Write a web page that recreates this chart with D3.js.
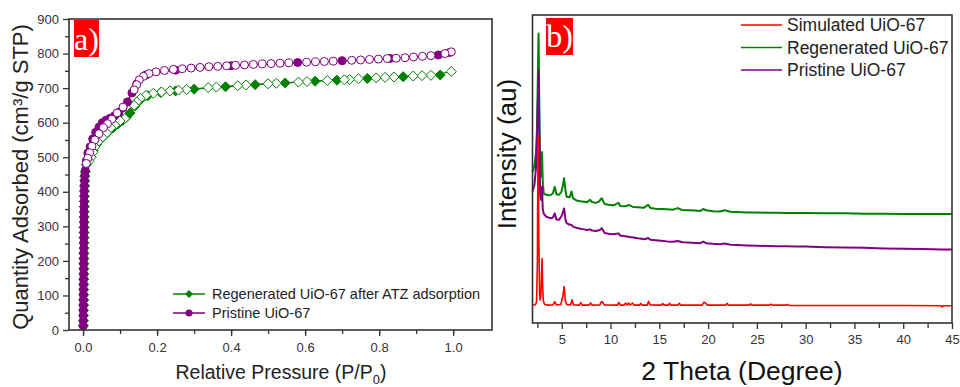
<!DOCTYPE html>
<html>
<head>
<meta charset="utf-8">
<script src="https://cdn.jsdelivr.net/npm/d3@7"></script>
<style>
  body { margin: 0; background: #fff; }
  svg { display: block; font-family: "Liberation Sans", Arial, sans-serif; }
  .tick text { fill: #333; font-size: 13px; }
  .tick line { stroke: #333; stroke-width: 1.3; }
  .domain { display: none; }
</style>
</head>
<body>
<div class="chart"></div>
<script>
// N2 isotherms (left) and XRD patterns (right)

// --- panel a) data: [P/P0, quantity adsorbed] ---
var pristineAds = [
  [0.0005, 12], [0.0006, 27], [0.0007, 42], [0.0008, 57], [0.0009, 72], [0.001, 87],
  [0.001, 102], [0.0011, 117], [0.0012, 132], [0.0013, 147], [0.0014, 162], [0.0015, 177],
  [0.0016, 192], [0.0017, 207], [0.0018, 222], [0.0019, 237], [0.002, 252], [0.0021, 267],
  [0.0022, 282], [0.0023, 297], [0.0024, 312], [0.0025, 327], [0.0026, 342], [0.0027, 357],
  [0.0028, 372], [0.003, 387], [0.0032, 402], [0.0035, 417], [0.004, 432], [0.0045, 447],
  [0.006, 462], [0.009, 490], [0.013, 512], [0.019, 530], [0.026, 553], [0.034, 572],
  [0.043, 587], [0.052, 600], [0.062, 607], [0.073, 613], [0.085, 620], [0.097, 630],
  [0.108, 643], [0.12, 660], [0.132, 686], [0.145, 712], [0.17, 738], [0.25, 752],
  [0.4, 765], [0.58, 774], [0.70, 779], [0.83, 786], [0.96, 796], [0.99, 803]
];
var pristineDes = [
  [0.995, 805], [0.978, 800], [0.94, 794], [0.917, 792], [0.893, 790], [0.87, 788],
  [0.846, 786.5], [0.822, 785.5], [0.798, 784], [0.774, 783], [0.75, 781.5], [0.726, 780.5],
  [0.676, 778], [0.652, 777], [0.628, 776], [0.604, 775], [0.556, 773], [0.532, 772],
  [0.508, 771], [0.484, 770], [0.46, 768.5], [0.436, 767], [0.412, 766], [0.388, 764.5],
  [0.364, 763], [0.34, 762], [0.316, 760], [0.292, 758], [0.268, 756], [0.244, 754],
  [0.22, 751], [0.197, 747], [0.178, 742], [0.163, 734], [0.152, 724], [0.145, 710],
  [0.138, 695], [0.108, 645], [0.092, 628], [0.078, 610], [0.066, 597], [0.055, 585],
  [0.043, 568], [0.032, 550], [0.024, 532], [0.018, 513], [0.013, 497], [0.009, 482]
];
var regenAds = [
  [0.001, 12], [0.0011, 27], [0.0012, 42], [0.0013, 57], [0.0014, 72], [0.0015, 87],
  [0.0016, 102], [0.0017, 117], [0.0018, 132], [0.0019, 147], [0.002, 162], [0.0021, 177],
  [0.0022, 192], [0.0023, 207], [0.0024, 222], [0.0025, 237], [0.0026, 252], [0.0027, 267],
  [0.0028, 282], [0.0029, 297], [0.003, 312], [0.0031, 327], [0.0032, 342], [0.0033, 357],
  [0.0034, 372], [0.0035, 387], [0.0037, 402], [0.004, 417], [0.0045, 432], [0.005, 445],
  [0.006, 458], [0.009, 478], [0.014, 495], [0.02, 508], [0.027, 520], [0.036, 537],
  [0.046, 550], [0.058, 562], [0.07, 575], [0.082, 586], [0.094, 596], [0.106, 606],
  [0.117, 616], [0.127, 628], [0.14, 648], [0.155, 666], [0.175, 678], [0.21, 687],
  [0.25, 692], [0.3, 697], [0.385, 704], [0.465, 710], [0.546, 715], [0.627, 720],
  [0.686, 723], [0.768, 728], [0.865, 733], [0.965, 738]
];
var regenDes = [
  [0.995, 748], [0.94, 737], [0.916, 736], [0.892, 735], [0.84, 732], [0.816, 731],
  [0.792, 729.5], [0.744, 727], [0.72, 725], [0.706, 724], [0.66, 722], [0.605, 719],
  [0.582, 717.5], [0.522, 714], [0.5, 712.5], [0.44, 709], [0.418, 707], [0.36, 703],
  [0.338, 701.5], [0.28, 696], [0.258, 694], [0.235, 692], [0.212, 689], [0.19, 685],
  [0.17, 679], [0.155, 670], [0.145, 660], [0.138, 650], [0.113, 612], [0.1, 605],
  [0.086, 593], [0.075, 585], [0.064, 570], [0.052, 557], [0.04, 544], [0.032, 530],
  [0.027, 515], [0.022, 500], [0.016, 488]
];
var isoLegend = ["Regenerated UiO-67 after ATZ adsorption", "Pristine UiO-67"];
var isoYTicks = [0, 100, 200, 300, 400, 500, 600, 700, 800, 900];
var isoXTicks = [0.0, 0.2, 0.4, 0.6, 0.8, 1.0];

// --- panel b) data: [2 theta, intensity (au)] ---
var simulated = [
  [2.0, 5.8], [2.3, 5.9], [2.42, 7], [2.5, 20], [2.57, 60.5], [2.64, 30], [2.72, 10],
  [2.78, 7.5], [2.86, 9], [2.93, 16], [2.98, 20.9], [3.04, 12], [3.12, 7], [3.25, 6.0],
  [3.6, 5.8], [4.1, 5.9], [4.28, 6.9], [4.45, 5.9], [4.9, 6.0], [5.1, 8.5], [5.24, 11.8],
  [5.36, 7.5], [5.5, 6.0], [5.9, 5.9], [6.05, 7.5], [6.2, 5.9], [6.8, 5.8], [6.95, 6.6],
  [7.1, 5.8], [7.8, 5.8], [7.95, 6.5], [8.1, 5.8], [8.9, 5.9], [9.05, 6.9], [9.15, 6.9],
  [9.35, 5.9], [10.7, 5.8], [10.85, 6.7], [11.0, 5.8], [11.4, 5.8], [11.55, 6.5], [11.7, 5.8],
  [11.85, 6.5], [12.0, 5.8], [12.25, 6.5], [12.4, 5.8], [12.95, 5.8], [13.1, 6.3], [13.25, 5.8],
  [13.75, 5.8], [13.9, 7.0], [14.05, 5.9], [15.2, 5.8], [15.35, 6.3], [15.5, 5.8], [15.9, 5.8],
  [16.05, 6.4], [16.2, 5.8], [16.9, 5.8], [17.05, 6.4], [17.2, 5.8], [19.4, 5.8], [19.55, 6.7],
  [19.75, 6.5], [19.9, 5.8], [21.8, 5.8], [21.95, 6.4], [22.1, 5.8], [24.2, 5.8], [24.35, 6.2],
  [24.5, 5.8], [26.3, 5.8], [26.45, 6.1], [26.6, 5.8], [28, 5.8], [28.15, 6.0], [28.3, 5.7],
  [30, 5.7], [35, 5.7], [40, 5.7], [43.9, 5.6], [44.0, 5.2], [44.1, 5.6], [45, 5.6]
];
var regenerated = [
  [2.0, 49], [2.2, 51], [2.35, 55], [2.45, 62], [2.55, 80], [2.62, 94], [2.7, 70], [2.78, 50],
  [2.85, 47.5], [2.93, 52], [2.98, 55.5], [3.05, 46], [3.15, 42], [3.3, 41.8], [3.6, 41.5],
  [3.9, 41.6], [4.1, 42.2], [4.28, 44.2], [4.45, 41.8], [4.7, 41.6], [4.95, 42.5], [5.1, 44.5],
  [5.24, 47], [5.38, 43], [5.5, 41], [5.8, 40.8], [6.0, 42.7], [6.15, 40.5], [6.5, 39.8],
  [6.9, 39.5], [7.3, 39.4], [7.6, 39.2], [7.9, 40.0], [8.1, 39.3], [8.5, 39.0], [8.8, 39.4],
  [9.1, 40.5], [9.4, 38.6], [9.8, 38.4], [10.3, 38.2], [10.8, 39.0], [11.0, 38.0], [11.5, 37.9],
  [11.9, 38.3], [12.3, 37.7], [12.8, 37.6], [13.4, 37.4], [13.85, 38.4], [14.1, 37.3],
  [14.6, 37.1], [15.2, 37.0], [15.8, 36.9], [16.4, 36.8], [16.9, 37.3], [17.3, 36.7], [18, 36.6],
  [18.7, 36.5], [19.2, 36.4], [19.5, 37.0], [19.8, 36.6], [20.5, 36.3], [21.2, 36.2], [21.7, 36.6],
  [22.3, 36.1], [23, 36.0], [24, 35.9], [25, 35.9], [26, 35.8], [27, 35.8], [28, 35.7], [29, 35.7],
  [30, 35.7], [32, 35.6], [34, 35.6], [36, 35.5], [38, 35.5], [40, 35.4], [42, 35.4], [44, 35.4],
  [45, 35.4]
];
var pristine = [
  [2.0, 42.7], [2.2, 45], [2.35, 50], [2.45, 58], [2.55, 72], [2.63, 82], [2.7, 62], [2.78, 42],
  [2.85, 40], [2.93, 43], [2.98, 44.2], [3.05, 37], [3.15, 35.5], [3.4, 34.5], [3.7, 34.2],
  [3.95, 34], [4.1, 34.3], [4.28, 35.6], [4.45, 33.6], [4.7, 33.5], [4.95, 34.5], [5.1, 35.8],
  [5.24, 37.2], [5.38, 33.5], [5.5, 32.4], [5.8, 31.9], [6.0, 31.9], [6.15, 31.3], [6.5, 30.9],
  [6.9, 30.6], [7.3, 30.4], [7.6, 30.2], [7.9, 30.4], [8.1, 30.0], [8.5, 29.9], [8.9, 30.2],
  [9.1, 30.8], [9.4, 29.2], [9.8, 29.0], [10.3, 28.8], [10.8, 29.1], [11.0, 28.4], [11.5, 28.2],
  [12.0, 27.9], [12.5, 27.7], [13.0, 27.4], [13.5, 27.2], [13.85, 27.6], [14.1, 27.0], [14.6, 26.9],
  [15.2, 26.7], [15.8, 26.5], [16.4, 26.4], [16.9, 26.6], [17.4, 26.2], [18, 26.1], [18.7, 26.0],
  [19.2, 25.9], [19.5, 26.4], [19.8, 25.9], [20.5, 25.7], [21.2, 25.6], [21.7, 25.8], [22.3, 25.4],
  [23, 25.3], [24, 25.2], [25, 25.1], [26, 25.0], [27, 24.9], [28, 24.9], [29, 24.8], [30, 24.8],
  [32, 24.6], [34, 24.5], [36, 24.4], [38, 24.2], [40, 24.1], [42, 24.0], [44, 23.9], [45, 23.9]
];
var xrdLegend = ["Simulated UiO-67", "Regenerated UiO-67", "Pristine UiO-67"];
var xrdXTicks = [5, 10, 15, 20, 25, 30, 35, 40, 45];

var svg = d3.select(".chart").append("svg")
  .attr("width", 960)
  .attr("height", 387);

var purple = "#800080", green = "#008000", red = "#ff0000";
var diamond = "M0,-5L5,0L0,5L-5,0Z";

// ===================== panel a =====================
var a = { left: 69, right: 492, top: 19, bottom: 330 };
var xA = d3.scaleLinear().domain([-0.038, 1.105]).range([a.left, a.right]);
var yA = d3.scaleLinear().domain([0, 900]).range([a.bottom, a.top]);

svg.append("g")
  .attr("transform", `translate(0, ${a.bottom})`)
  .call(d3.axisBottom(xA).tickValues(d3.range(0, 1.05, 0.1)).tickSize(4).tickFormat(""));
svg.append("g")
  .attr("transform", `translate(0, ${a.bottom})`)
  .call(d3.axisBottom(xA).tickValues(isoXTicks).tickSize(6).tickPadding(7).tickFormat(d3.format(".1f")));
svg.append("g")
  .attr("transform", `translate(${a.left}, 0)`)
  .call(d3.axisLeft(yA).tickValues(d3.range(50, 900, 100)).tickSize(4).tickFormat(""));
svg.append("g")
  .attr("transform", `translate(${a.left}, 0)`)
  .call(d3.axisLeft(yA).tickValues(isoYTicks).tickSize(6).tickPadding(4));

var lineA = d3.line().x(d => xA(d[0])).y(d => yA(d[1]));

function drawBranch(data, color, shape, filled) {
  svg.append("path").datum(data)
    .attr("d", lineA).attr("fill", "none")
    .attr("stroke", color).attr("stroke-width", 1.2);
  var g = svg.append("g");
  if (shape === "circle") {
    g.selectAll("circle").data(data).enter().append("circle")
      .attr("cx", d => xA(d[0])).attr("cy", d => yA(d[1])).attr("r", 4)
      .attr("fill", filled ? color : "#fff")
      .attr("stroke", color).attr("stroke-width", 1);
  } else {
    g.selectAll("path").data(data).enter().append("path")
      .attr("d", diamond)
      .attr("transform", d => `translate(${xA(d[0])},${yA(d[1])})`)
      .attr("fill", filled ? color : "#fff")
      .attr("stroke", color).attr("stroke-width", 1);
  }
}

drawBranch(regenAds, green, "diamond", true);
drawBranch(regenDes, green, "diamond", false);
drawBranch(pristineAds, purple, "circle", true);
drawBranch(pristineDes, purple, "circle", false);

svg.append("rect")
  .attr("x", a.left).attr("y", a.top)
  .attr("width", a.right - a.left).attr("height", a.bottom - a.top)
  .attr("fill", "none").attr("stroke", "#333").attr("stroke-width", 1.6);

// legend a
[green, purple].forEach(function (c, i) {
  var y = 294 + i * 19;
  svg.append("line").attr("x1", 173).attr("x2", 205).attr("y1", y).attr("y2", y)
    .attr("stroke", c).attr("stroke-width", 1.5);
  if (i === 0) {
    svg.append("path").attr("d", "M0,-4L4,0L0,4L-4,0Z")
      .attr("transform", `translate(189,${y})`).attr("fill", c);
  } else {
    svg.append("circle").attr("cx", 189).attr("cy", y).attr("r", 3.5).attr("fill", c);
  }
  svg.append("text").attr("x", 212).attr("y", y).attr("dy", "0.36em")
    .style("font-size", "14.5px").attr("fill", "#222").text(isoLegend[i]);
});

// axis titles a
svg.append("text")
  .attr("transform", "translate(28, 177) rotate(-90)")
  .attr("text-anchor", "middle").style("font-size", "22px").attr("fill", "#222")
  .text("Quantity Adsorbed (cm³/g STP)");
var xt = svg.append("text")
  .attr("x", 281).attr("y", 379)
  .attr("text-anchor", "middle").style("font-size", "19.5px").attr("fill", "#222");
xt.append("tspan").text("Relative Pressure (P/P");
xt.append("tspan").attr("dy", 5).style("font-size", "13px").text("0");
xt.append("tspan").attr("dy", -5).text(")");

// panel tag a
svg.append("rect").attr("x", 74).attr("y", 20).attr("width", 25).attr("height", 37).attr("fill", red);
svg.append("text").attr("x", 86.5).attr("y", 50).attr("text-anchor", "middle")
  .style("font-family", "'Liberation Serif', 'Times New Roman', serif")
  .style("font-size", "32px").attr("fill", "#fff").text("a)");

// ===================== panel b =====================
var b = { left: 532.5, right: 952, top: 15, bottom: 323 };
var xB = d3.scaleLinear().domain([2, 45]).range([b.left, b.right]);
var yB = d3.scaleLinear().domain([0, 100]).range([b.bottom, b.top]);

svg.append("g")
  .attr("transform", `translate(0, ${b.bottom})`)
  .call(d3.axisBottom(xB).tickValues(d3.range(2.5, 45, 5)).tickSize(5).tickFormat(""));
svg.append("g")
  .attr("transform", `translate(0, ${b.bottom})`)
  .call(d3.axisBottom(xB).tickValues(xrdXTicks).tickSize(6).tickPadding(6));

var lineB = d3.line().x(d => xB(d[0])).y(d => yB(d[1]));
[[regenerated, green, 2], [pristine, purple, 2], [simulated, red, 1.6]].forEach(function (s) {
  svg.append("path").datum(s[0])
    .attr("d", lineB).attr("fill", "none")
    .attr("stroke", s[1]).attr("stroke-width", s[2]).attr("stroke-linejoin", "round");
});

svg.append("rect")
  .attr("x", b.left).attr("y", b.top)
  .attr("width", b.right - b.left).attr("height", b.bottom - b.top)
  .attr("fill", "none").attr("stroke", "#333").attr("stroke-width", 1.6);

// legend b
[red, green, purple].forEach(function (c, i) {
  var y = 25 + i * 22.5;
  svg.append("line").attr("x1", 741).attr("x2", 782).attr("y1", y).attr("y2", y)
    .attr("stroke", c).attr("stroke-width", 1.5);
  svg.append("text").attr("x", 787).attr("y", y).attr("dy", "0.36em")
    .style("font-size", "17.5px").attr("fill", "#222").text(xrdLegend[i]);
});

// axis titles b
svg.append("text")
  .attr("transform", "translate(516, 154) rotate(-90)")
  .attr("text-anchor", "middle").style("font-size", "26px").attr("fill", "#111")
  .text("Intensity (au)");
svg.append("text")
  .attr("x", 742).attr("y", 380).attr("text-anchor", "middle")
  .style("font-size", "26.5px").attr("fill", "#111")
  .text("2 Theta (Degree)");

// panel tag b
svg.append("rect").attr("x", 546).attr("y", 18).attr("width", 27).attr("height", 37).attr("fill", red);
svg.append("text").attr("x", 559.5).attr("y", 47).attr("text-anchor", "middle")
  .style("font-family", "'Liberation Serif', 'Times New Roman', serif")
  .style("font-size", "32px").attr("fill", "#fff").text("b)");
</script>
</body>
</html>
